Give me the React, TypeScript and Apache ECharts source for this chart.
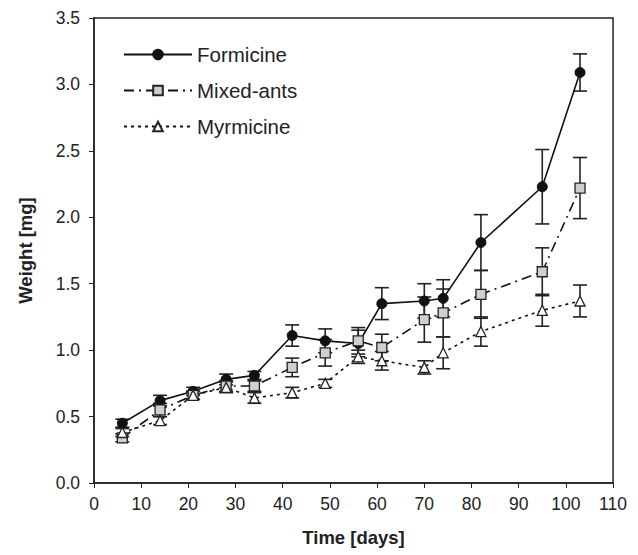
import React, { useEffect, useRef } from "react";
import * as echarts from "echarts";

const days = [6, 14, 21, 28, 34, 42, 49, 56, 61, 70, 74, 82, 95, 103];
const formicine = [0.45, 0.62, 0.69, 0.78, 0.81, 1.11, 1.07, 1.05, 1.35, 1.37, 1.39, 1.81, 2.23, 3.09];
const formicineErr = [0.03, 0.04, 0.03, 0.04, 0.03, 0.08, 0.09, 0.1, 0.12, 0.13, 0.14, 0.21, 0.28, 0.14];
const mixed = [0.34, 0.55, 0.66, 0.73, 0.73, 0.87, 0.98, 1.07, 1.02, 1.23, 1.28, 1.42, 1.59, 2.22];
const mixedErr = [0.03, 0.05, 0.03, 0.04, 0.04, 0.07, 0.1, 0.1, 0.1, 0.17, 0.18, 0.18, 0.18, 0.23];
const myrmicine = [0.38, 0.47, 0.66, 0.72, 0.64, 0.68, 0.75, 0.95, 0.92, 0.87, 0.98, 1.14, 1.3, 1.37];
const myrmicineErr = [0.03, 0.03, 0.03, 0.04, 0.04, 0.04, 0.03, 0.05, 0.07, 0.05, 0.12, 0.11, 0.12, 0.12];

const pts = (vals: number[]) => days.map((d, i) => [d, vals[i]]);
const errs = (vals: number[], e: number[]) => days.map((d, i) => [d, vals[i] - e[i], vals[i] + e[i]]);

const errorSeries = (name: string, vals: number[], e: number[]) => ({
  type: "custom",
  name: name + "-err",
  data: errs(vals, e),
  encode: { x: 0, y: [1, 2] },
  z: 1,
  silent: true,
  renderItem: (params: any, api: any) => {
    const x = api.value(0);
    const lo = api.coord([x, api.value(1)]);
    const hi = api.coord([x, api.value(2)]);
    const hw = 7;
    const style = { stroke: "#222", lineWidth: 1.6 };
    return {
      type: "group",
      children: [
        { type: "line", shape: { x1: lo[0], y1: lo[1], x2: hi[0], y2: hi[1] }, style },
        { type: "line", shape: { x1: lo[0] - hw, y1: lo[1], x2: lo[0] + hw, y2: lo[1] }, style },
        { type: "line", shape: { x1: hi[0] - hw, y1: hi[1], x2: hi[0] + hw, y2: hi[1] }, style },
      ],
    };
  },
});

export default function App() {
  const ref = useRef<HTMLDivElement>(null);
  useEffect(() => {
    const chart = echarts.init(ref.current!, null, { renderer: "svg" });
    const font = "Liberation Sans, Arial, sans-serif";
    chart.setOption({
      animation: false,
      textStyle: { fontFamily: font },
      grid: { left: 79, top: 10, right: 9, bottom: 72, show: true, borderColor: "#222", borderWidth: 1.5 },
      legend: {
        orient: "vertical",
        left: 115,
        top: 36,
        itemWidth: 68,
        itemHeight: 12,
        itemGap: 15,
        padding: 0,
        data: ["Formicine", "Mixed-ants", "Myrmicine"],
        textStyle: { fontSize: 20.5, color: "#222", fontFamily: font },
      },
      xAxis: {
        type: "value",
        min: 0,
        max: 110,
        interval: 10,
        name: "Time [days]",
        nameLocation: "middle",
        nameGap: 45,
        nameTextStyle: { fontSize: 18.5, fontWeight: "bold", color: "#222", fontFamily: font },
        axisLine: { lineStyle: { color: "#222", width: 1.5 } },
        axisTick: { show: true, length: 5, lineStyle: { color: "#222" } },
        axisLabel: { fontSize: 17.5, color: "#222", margin: 12, fontFamily: font },
        splitLine: { show: false },
      },
      yAxis: {
        type: "value",
        min: 0,
        max: 3.5,
        interval: 0.5,
        name: "Weight [mg]",
        nameLocation: "middle",
        nameGap: 59,
        nameTextStyle: { fontSize: 18.5, fontWeight: "bold", color: "#222", fontFamily: font },
        axisLine: { show: true, lineStyle: { color: "#222", width: 1.5 } },
        axisTick: { show: true, length: 5, lineStyle: { color: "#222" } },
        axisLabel: { fontSize: 17.5, color: "#222", margin: 14, fontFamily: font, formatter: (v: number) => v.toFixed(1) },
        splitLine: { show: false },
      },
      series: [
        errorSeries("Formicine", formicine, formicineErr),
        errorSeries("Mixed-ants", mixed, mixedErr),
        errorSeries("Myrmicine", myrmicine, myrmicineErr),
        {
          type: "line",
          name: "Formicine",
          data: pts(formicine),
          symbol: "circle",
          symbolSize: 10,
          z: 3,
          lineStyle: { color: "#111", width: 1.6, type: "solid" },
          itemStyle: { color: "#111", borderColor: "#111", borderWidth: 1 },
        },
        {
          type: "line",
          name: "Mixed-ants",
          data: pts(mixed),
          symbol: "rect",
          symbolSize: 10,
          z: 3,
          lineStyle: { color: "#111", width: 1.6, type: [10, 5, 2, 5] },
          itemStyle: { color: "#cfcfcf", borderColor: "#222", borderWidth: 1.3 },
        },
        {
          type: "line",
          name: "Myrmicine",
          data: pts(myrmicine),
          symbol: "triangle",
          symbolSize: 10,
          z: 3,
          lineStyle: { color: "#111", width: 1.6, type: [3, 4] },
          itemStyle: { color: "#ffffff", borderColor: "#222", borderWidth: 1.3 },
        },
      ],
    });
    return () => chart.dispose();
  }, []);
  return <div ref={ref} style={{ width: 622, height: 547 }} />;
}
